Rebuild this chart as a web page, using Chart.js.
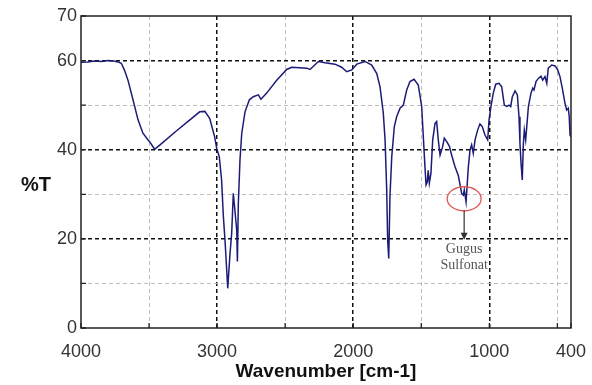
<!DOCTYPE html>
<html>
<head>
<meta charset="utf-8">
<script src="https://cdn.jsdelivr.net/npm/chart.js"></script>
<style>
  body { margin: 0; background: #fff; }
  .wrap { width: 592px; height: 385px; position: relative; }
</style>
</head>
<body>
<div class="wrap"><canvas id="irChart"></canvas></div>
<script>
// spectrum data
const wavenumber = [
    4000, 3950, 3900, 3850, 3800, 3760, 3728, 3704, 3680, 3655, 3618, 3581, 3545, 3510, 3496, 3459,
    3400, 3300, 3200, 3128, 3090, 3054, 3018, 3003, 2984, 2967, 2954, 2942, 2922, 2905, 2893, 2881,
    2874, 2856, 2851, 2844, 2832, 2819, 2795, 2763, 2734, 2697, 2678, 2636, 2562, 2489, 2452, 2342,
    2317, 2256, 2207, 2134, 2085, 2048, 2011, 1974, 1913, 1864, 1827, 1803, 1779, 1766, 1754, 1747,
    1739, 1730, 1717, 1698, 1681, 1656, 1632, 1607, 1583, 1553, 1522, 1497, 1485, 1473, 1465, 1456,
    1449, 1441, 1429, 1416, 1399, 1387, 1375, 1362, 1343, 1331, 1313, 1294, 1277, 1252, 1228, 1203,
    1191, 1184, 1171, 1162, 1154, 1142, 1130, 1118, 1105, 1086, 1069, 1052, 1032, 1012, 1002, 988,
    971, 953, 929, 909, 890, 872, 855, 843, 831, 811, 794, 782, 775, 767, 758, 750,
    743, 733, 726, 713, 694, 681, 672, 657, 640, 620, 608, 591, 578, 567, 542, 517,
    498, 481, 464, 444, 432, 420, 413, 407, 400
];
const transmittance = [
    59.6, 59.7, 59.9, 59.8, 60.0, 59.9, 59.7, 59.4, 57.8, 55.6, 51.2, 46.7, 43.7, 42.3, 41.8, 40.1,
    41.6, 44.2, 46.7, 48.5, 48.6, 47.0, 42.9, 40.3, 38.4, 33.2, 25.0, 19.7, 8.9, 16.8, 21.2, 30.2,
    28.0, 22.0, 14.9, 28.0, 37.7, 43.7, 48.5, 51.2, 51.9, 52.3, 51.3, 52.7, 55.6, 58.0, 58.5, 58.3,
    58.0, 59.8, 59.5, 59.2, 58.5, 57.5, 57.9, 59.2, 59.8, 59.0, 57.1, 54.1, 48.2, 42.2, 31.0, 19.7,
    15.6, 29.5, 38.4, 45.2, 47.4, 49.3, 50.0, 53.4, 55.3, 55.8, 54.5, 49.7, 42.9, 36.2, 32.1, 32.8,
    35.4, 32.5, 34.7, 42.2, 45.9, 46.3, 42.2, 38.8, 40.7, 42.6, 41.8, 40.8, 38.8, 36.2, 34.2, 30.2,
    29.8, 31.0, 28.3, 32.5, 36.2, 39.9, 41.1, 39.2, 42.2, 44.4, 45.8, 45.2, 43.3, 42.2, 46.7, 49.7,
    52.7, 54.7, 54.9, 54.1, 50.0, 49.7, 50.0, 49.7, 51.9, 53.2, 52.3, 47.4, 41.4, 37.0, 33.2, 41.4,
    44.4, 42.2, 44.8, 49.7, 52.7, 53.8, 53.4, 55.3, 56.0, 56.5, 55.6, 56.4, 54.9, 58.3, 59.0, 58.8,
    57.9, 56.4, 53.8, 50.4, 48.9, 49.3, 47.4, 43.3, 42.9
];

const xTicks = [4000, 3500, 3000, 2500, 2000, 1500, 1000, 500, 400];
const xLabels = [4000, 3000, 2000, 1000, 400];
const yTicks = [0, 10, 20, 30, 40, 50, 60, 70];
const yLabels = [0, 20, 40, 60, 70];

// annotation: peak of the sulfonate group
const markWave = 1185;
const markT = 29.0;
const markText = ['Gugus', 'Sulfonat'];

const points = wavenumber.map((w, i) => ({ x: w, y: transmittance[i] }));

// frame, inner tick marks, %T label, annotation
const extras = {
    id: 'extras',
    afterDatasetsDraw(chart) {
        const { ctx, chartArea: a, scales } = chart;
        ctx.save();
        ctx.strokeStyle = '#222';
        ctx.lineWidth = 1.5;
        ctx.strokeRect(a.left, a.top, a.right - a.left, a.bottom - a.top);

        ctx.lineWidth = 1.3;
        ctx.beginPath();
        xTicks.forEach(v => {
            const px = scales.x.getPixelForValue(v);
            ctx.moveTo(px, a.bottom);
            ctx.lineTo(px, a.bottom - 5);
        });
        yTicks.forEach(v => {
            const py = scales.y.getPixelForValue(v);
            ctx.moveTo(a.left, py);
            ctx.lineTo(a.left + 5, py);
        });
        ctx.stroke();

        const cx = scales.x.getPixelForValue(markWave);
        const cy = scales.y.getPixelForValue(markT);
        ctx.strokeStyle = '#e05555';
        ctx.lineWidth = 1.3;
        ctx.beginPath();
        ctx.ellipse(cx, cy, 17, 12, 0, 0, Math.PI * 2);
        ctx.stroke();

        // arrow down to the text
        const tipY = scales.y.getPixelForValue(20) + 1;
        ctx.strokeStyle = '#333';
        ctx.fillStyle = '#333';
        ctx.lineWidth = 1.2;
        ctx.beginPath();
        ctx.moveTo(cx, cy + 12);
        ctx.lineTo(cx, tipY - 6);
        ctx.stroke();
        ctx.beginPath();
        ctx.moveTo(cx - 3.5, tipY - 7);
        ctx.lineTo(cx + 3.5, tipY - 7);
        ctx.lineTo(cx, tipY);
        ctx.closePath();
        ctx.fill();

        ctx.fillStyle = '#555';
        ctx.font = '14px "Liberation Serif", "DejaVu Serif", serif';
        ctx.textAlign = 'center';
        ctx.textBaseline = 'middle';
        ctx.fillText(markText[0], cx, tipY + 9);
        ctx.fillText(markText[1], cx, tipY + 25);

        ctx.fillStyle = '#111';
        ctx.font = 'bold 20px "Liberation Sans", Arial, sans-serif';
        ctx.fillText('%T', 36, 185);
        ctx.restore();
    }
};

const ctx = document.getElementById('irChart').getContext('2d');
const irChart = new Chart(ctx, {
    type: 'line',
    data: {
        datasets: [{
            data: points,
            borderColor: '#1c1c78',
            borderWidth: 1.5,
            pointRadius: 0,
            tension: 0,
            fill: false
        }]
    },
    options: {
        responsive: true,
        maintainAspectRatio: false,
        animation: false,
        layout: { padding: { left: 0, right: 21, top: 16, bottom: 0 } },
        plugins: {
            legend: { display: false },
            tooltip: { enabled: false }
        },
        scales: {
            x: {
                type: 'linear',
                reverse: true,
                min: 400,
                max: 4000,
                afterBuildTicks: (s) => { s.ticks = xTicks.map(v => ({ value: v })); },
                afterFit: (s) => {
                    s.height = 57;
                    s.paddingLeft = 0;
                    s.paddingRight = 0;
                },
                ticks: {
                    autoSkip: false,
                    maxRotation: 0,
                    padding: 13,
                    color: '#333',
                    font: { family: '"Liberation Sans", Arial, sans-serif', size: 18 },
                    callback: (v) => xLabels.includes(v) ? String(v) : ''
                },
                grid: {
                    drawTicks: false,
                    color: (c) => {
                        const v = c.tick ? c.tick.value : 0;
                        if (v === 4000 || v === 400) return 'rgba(0,0,0,0)';
                        return v % 1000 === 0 ? '#111' : '#bdbdbd';
                    },
                    lineWidth: (c) => (c.tick && c.tick.value % 1000 === 0) ? 1.5 : 1
                },
                border: { display: false, dash: [4, 3] },
                title: {
                    display: true,
                    text: 'Wavenumber [cm-1]',
                    color: '#111',
                    font: { family: '"Liberation Sans", Arial, sans-serif', size: 19, weight: 'bold' },
                    padding: { top: 0, bottom: 2 }
                }
            },
            y: {
                min: 0,
                max: 70,
                afterFit: (s) => { s.width = 81; },
                ticks: {
                    stepSize: 10,
                    padding: 4,
                    color: '#333',
                    font: { family: '"Liberation Sans", Arial, sans-serif', size: 18 },
                    callback: (v) => yLabels.includes(v) ? String(v) : ''
                },
                grid: {
                    drawTicks: false,
                    color: (c) => {
                        const v = c.tick ? c.tick.value : 0;
                        if (v === 0 || v === 70) return 'rgba(0,0,0,0)';
                        return v % 20 === 0 ? '#111' : '#bdbdbd';
                    },
                    lineWidth: (c) => (c.tick && c.tick.value % 20 === 0) ? 1.5 : 1
                },
                border: { display: false, dash: [4, 3] }
            }
        }
    },
    plugins: [extras]
});
</script>
</body>
</html>
